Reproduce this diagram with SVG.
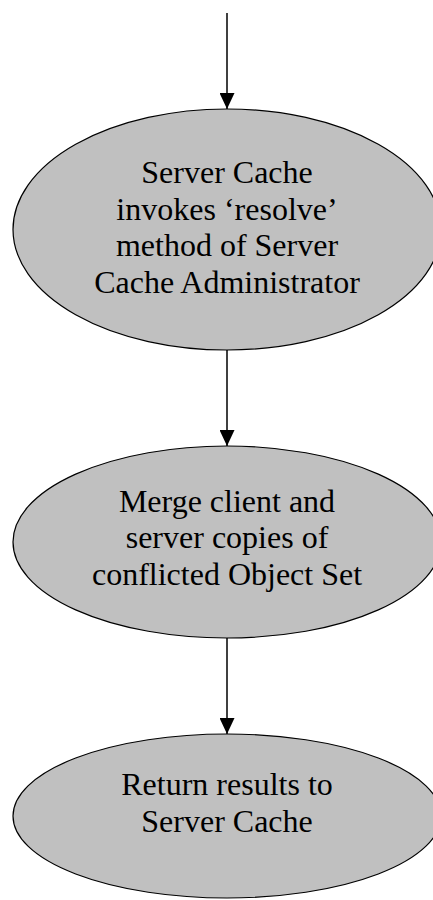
<svg xmlns="http://www.w3.org/2000/svg" width="433" height="900" viewBox="0 0 433 900">
  <style>
    .node ellipse { fill: #c0c0c0; stroke: #000; stroke-width: 1.2; }
    .node text { font-family: "Liberation Serif", "Times New Roman", serif; font-size: 32px; fill: #000; text-anchor: middle; }
    .edge { stroke: #000; stroke-width: 1.5; fill: none; marker-end: url(#arrow); }
  </style>
  <defs>
    <marker id="arrow" markerWidth="16" markerHeight="15" refX="16" refY="7.5" orient="auto" markerUnits="userSpaceOnUse">
      <path d="M0,0 L16,7.5 L0,15 Z" fill="#000"/>
    </marker>
  </defs>
  <rect width="433" height="900" fill="#fff"/>

  <g id="connectors">
    <line class="edge" x1="227" y1="13" x2="227" y2="109"/>
    <line class="edge" x1="227" y1="350" x2="227" y2="446"/>
    <line class="edge" x1="227" y1="638" x2="227" y2="734"/>
  </g>

  <g id="resolve" class="node">
    <ellipse cx="227" cy="229.5" rx="214" ry="120.5"/>
    <text x="227" y="183">Server Cache</text>
    <text x="227" y="219.5">invokes ‘resolve’</text>
    <text x="227" y="256">method of Server</text>
    <text x="227" y="293">Cache Administrator</text>
  </g>

  <g id="merge" class="node">
    <ellipse cx="227" cy="542" rx="214" ry="96"/>
    <text x="227" y="511.5">Merge client and</text>
    <text x="227" y="548">server copies of</text>
    <text x="227" y="585">conflicted Object Set</text>
  </g>

  <g id="return" class="node">
    <ellipse cx="227" cy="816" rx="214" ry="82"/>
    <text x="227" y="795">Return results to</text>
    <text x="227" y="831.5">Server Cache</text>
  </g>
</svg>
